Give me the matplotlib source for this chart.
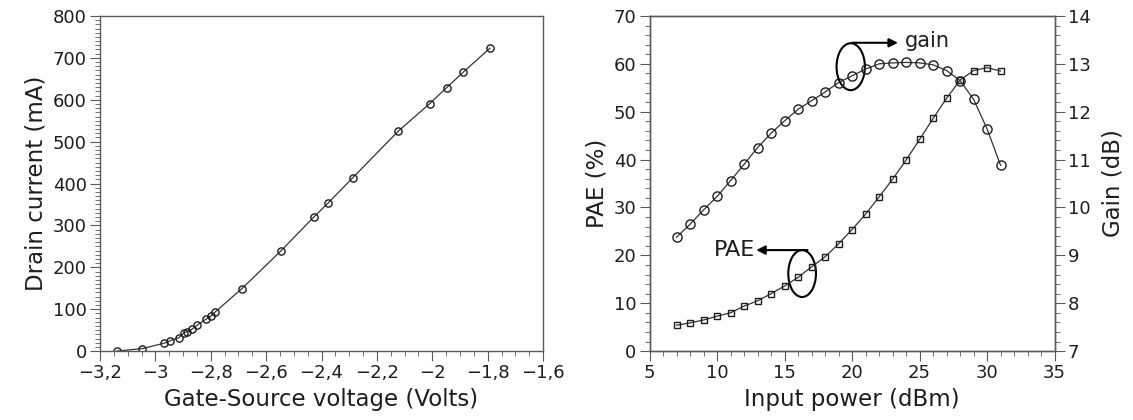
"""Transistor characterisation: bias sweep and power sweep."""

import matplotlib

matplotlib.use("Agg")
import matplotlib.pyplot as plt
from matplotlib.patches import Ellipse
from matplotlib.ticker import FuncFormatter, MultipleLocator

# Drain current vs gate-source voltage
vgs = [-3.14, -3.047, -2.968, -2.946, -2.915, -2.897, -2.887, -2.869, -2.849,
       -2.818, -2.80, -2.785, -2.688, -2.547, -2.428, -2.377, -2.287, -2.123,
       -2.009, -1.948, -1.888, -1.792]
drain_ma = [0, 6, 19, 25, 32, 44, 46, 52, 62, 76, 84, 93, 149, 239, 320, 353,
            414, 525, 591, 629, 666, 723]

# Power sweep
pin_dbm = list(range(7, 32))
pae_pct = [5.4, 5.9, 6.5, 7.3, 8.0, 9.4, 10.5, 12.0, 13.6, 15.4, 17.6, 19.7,
           22.4, 25.4, 28.6, 32.2, 35.9, 39.9, 44.2, 48.6, 52.8, 56.6, 58.6,
           59.2, 58.5]
gain_db = [9.38, 9.65, 9.95, 10.23, 10.56, 10.90, 11.25, 11.55, 11.81, 12.05,
           12.23, 12.41, 12.61, 12.75, 12.89, 13.00, 13.02, 13.03, 13.02, 12.98,
           12.86, 12.65, 12.26, 11.64, 10.88]

LINE = "#333333"
INK = "#1e1e1e"

plt.rcParams.update(
    {
        "font.family": "DejaVu Sans",
        "font.size": 13,
        "axes.labelsize": 16.5,
        "axes.edgecolor": "#5a5a5a",
        "axes.linewidth": 1.0,
        "xtick.direction": "out",
        "ytick.direction": "out",
        "xtick.major.size": 7,
        "ytick.major.size": 7,
        "xtick.minor.size": 3.6,
        "ytick.minor.size": 3.6,
        "xtick.major.pad": 2.5,
        "ytick.major.pad": 2.5,
        "xtick.color": "#5a5a5a",
        "ytick.color": "#5a5a5a",
        "xtick.labelcolor": INK,
        "ytick.labelcolor": INK,
        "axes.labelcolor": INK,
    }
)


def comma_minus(x, _pos=None):
    s = f"{x:.1f}".rstrip("0").rstrip(".")
    if s in ("-0", "0"):
        return "0"
    return s.replace("-", "\u2212").replace(".", ",")


fig = plt.figure(figsize=(11.33, 4.2), dpi=100)

# left panel
ax1 = fig.add_axes([0.0883, 0.164, 0.391, 0.798])
ax1.plot(vgs, drain_ma, color=LINE, lw=0.9, marker="o", ms=5.2,
         mfc="none", mec=INK, mew=1.0)
ax1.set_xlim(-3.2, -1.6)
ax1.set_ylim(0, 800)
ax1.xaxis.set_major_locator(MultipleLocator(0.2))
ax1.xaxis.set_minor_locator(MultipleLocator(0.05))
ax1.yaxis.set_major_locator(MultipleLocator(100))
ax1.yaxis.set_minor_locator(MultipleLocator(10))
ax1.xaxis.set_major_formatter(FuncFormatter(comma_minus))
ax1.set_xlabel("Gate-Source voltage (Volts)", labelpad=4)
ax1.set_ylabel("Drain current (mA)", labelpad=4)

# right panel: PAE on the left axis, gain on a twin axis
ax2 = fig.add_axes([0.5733, 0.164, 0.3575, 0.798])
ax2.plot(pin_dbm, pae_pct, color=LINE, lw=0.9, marker="s", ms=4.5,
         mfc="none", mec=INK, mew=1.0)
ax2.set_xlim(5, 35)
ax2.set_ylim(0, 70)
ax2.xaxis.set_major_locator(MultipleLocator(5))
ax2.xaxis.set_minor_locator(MultipleLocator(1))
ax2.yaxis.set_major_locator(MultipleLocator(10))
ax2.yaxis.set_minor_locator(MultipleLocator(2))
ax2.set_xlabel("Input power (dBm)", labelpad=4)
ax2.set_ylabel("PAE (%)", labelpad=4)

ax3 = ax2.twinx()
ax3.plot(pin_dbm, gain_db, color=LINE, lw=0.9, marker="o", ms=6.6,
         mfc="none", mec=INK, mew=1.0)
ax3.set_ylim(7, 14)
ax3.yaxis.set_major_locator(MultipleLocator(1))
ax3.yaxis.set_minor_locator(MultipleLocator(0.2))
ax3.set_ylabel("Gain (dB)", labelpad=8)

# curve identifiers
ax2.add_patch(Ellipse((19.9, 59.4), 2.1, 9.8, fill=False, ec="black", lw=1.5))
ax2.annotate("", xy=(23.4, 64.4), xytext=(20.0, 64.4),
             arrowprops=dict(arrowstyle="-|>", color="black", lw=1.5,
                             mutation_scale=13, shrinkA=0, shrinkB=0))
ax2.text(23.9, 64.8, "gain", fontsize=15, va="center", ha="left", color=INK)

ax2.add_patch(Ellipse((16.3, 16.2), 2.05, 9.8, fill=False, ec="black", lw=1.5))
ax2.annotate("", xy=(12.9, 21.1), xytext=(16.7, 21.1),
             arrowprops=dict(arrowstyle="-|>", color="black", lw=1.5,
                             mutation_scale=13, shrinkA=0, shrinkB=0))
ax2.text(12.8, 21.1, "PAE", fontsize=16, va="center", ha="right", color=INK)

fig.savefig("out.png", dpi=100)
